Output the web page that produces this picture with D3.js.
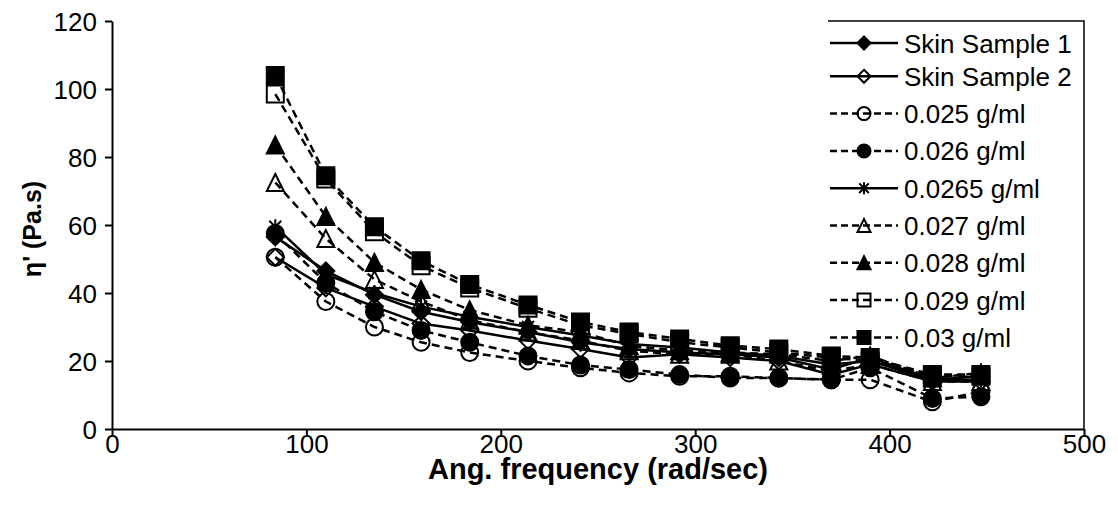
<!DOCTYPE html>
<html>
<head>
<meta charset="utf-8">
<script src="https://cdn.jsdelivr.net/npm/d3@7"></script>
<style>
  body { margin: 0; background: #fff; }
  text { font-family: Arial, "Liberation Sans", sans-serif; }
</style>
</head>
<body>
<div id="chart"></div>
<script>
// Dữ liệu
const freq = [84, 110, 135, 159, 184, 214, 241, 266, 292, 318, 343, 370, 390, 422, 447];

const skin1 = [56.5, 46.5, 39.5, 34.5, 31.5, 28.5, 25.5, 23.5, 22.5, 22, 21, 17.5, 21, 14.5, 15.5];
const skin2 = [50.5, 41.5, 36, 31, 29, 26, 23.5, 21, 22, 21, 20, 16, 19, 14, 14];
const c025 = [50.5, 37.5, 30, 25.5, 22.5, 20, 18, 16.5, 15.5, 15.5, 15, 14.5, 14.5, 8, 11];
const c026 = [57.5, 43, 34.5, 29, 25.5, 21.5, 18.8, 17.5, 16, 15, 15, 14.5, 18, 9, 9.5];
const c0265 = [59.5, 45.5, 40, 36, 33, 30, 27.5, 25, 24, 22.5, 21.5, 19, 20, 14.5, 14.5];
const c027 = [72.5, 56, 44, 37.5, 32, 28.5, 26, 23, 22, 22, 20, 17, 19, 14, 14];
const c028 = [83.5, 62.5, 49, 41, 35, 30.5, 28.5, 24.5, 23, 22.5, 22, 20, 21.5, 15, 16.5];
const c029 = [98.5, 73.5, 58, 48, 41.5, 35.5, 30.5, 28, 25.5, 24, 22.5, 21, 20, 15.5, 15.5];
const c03 = [104, 74.5, 59.5, 49.5, 42.5, 36.5, 31.5, 28.5, 26.5, 24.5, 23.5, 21.5, 21, 16, 16];

const seriesNames = ["Skin Sample 1", "Skin Sample 2", "0.025 g/ml", "0.026 g/ml", "0.0265 g/ml",
                     "0.027 g/ml", "0.028 g/ml", "0.029 g/ml", "0.03 g/ml"];
const seriesValues = [skin1, skin2, c025, c026, c0265, c027, c028, c029, c03];
const seriesMarkers = ["diamond", "diamondOpen", "circleOpen", "circle", "star",
                       "triangleOpen", "triangle", "squareOpen", "square"];
const seriesDashed = [false, false, true, true, false, true, true, true, true];

const xTicks = [0, 100, 200, 300, 400, 500];
const yTicks = [0, 20, 40, 60, 80, 100, 120];

const width = 1118, height = 508;
const margin = { top: 21, right: 34, bottom: 79, left: 112 };

const svg = d3.select("#chart").append("svg")
    .attr("width", width)
    .attr("height", height);

const x = d3.scaleLinear().domain([0, 500]).range([margin.left, width - margin.right]);
const y = d3.scaleLinear().domain([0, 120]).range([height - margin.bottom, margin.top]);

// Trục
const xAxis = svg.append("g")
    .attr("transform", `translate(0,${y(0)})`)
    .call(d3.axisBottom(x).tickValues(xTicks).tickSize(7).tickPadding(-1).tickSizeOuter(0));
xAxis.selectAll("text").style("font-size", "26px").attr("fill", "#000");

const yAxis = svg.append("g")
    .attr("transform", `translate(${x(0)},0)`)
    .call(d3.axisLeft(y).tickValues(yTicks).tickSize(7).tickPadding(8).tickSizeOuter(0));
yAxis.selectAll("text").style("font-size", "26px").attr("fill", "#000").attr("dy", "0.36em");

svg.selectAll(".domain").attr("stroke", "#000").attr("stroke-width", 2);
svg.selectAll(".tick line").attr("stroke", "#000").attr("stroke-width", 2);

// Tiêu đề trục
svg.append("text")
    .attr("x", (x(0) + x(500)) / 2)
    .attr("y", 479)
    .attr("text-anchor", "middle")
    .style("font-size", "29px")
    .style("font-weight", "bold")
    .text("Ang. frequency (rad/sec)");

svg.append("text")
    .attr("transform", `translate(41,229) rotate(-90)`)
    .attr("text-anchor", "middle")
    .style("font-size", "25px")
    .style("font-weight", "bold")
    .text("η' (Pa.s)");

// Khung chú giải (chỉ cạnh trên và phải hiện ra)
svg.append("path")
    .attr("d", `M828,${y(120)}H${x(500)}V${y(0)}`)
    .attr("fill", "none")
    .attr("stroke", "#000")
    .attr("stroke-width", 1.5);

function drawMarker(g, type, cx, cy, s) {
    const h = s / 2;
    let d, filled = !type.endsWith("Open");
    const base = type.replace("Open", "");
    if (base === "square") {
        d = `M${cx - h},${cy - h}h${s}v${s}h${-s}Z`;
    } else if (base === "diamond") {
        d = `M${cx},${cy - h}L${cx + h},${cy}L${cx},${cy + h}L${cx - h},${cy}Z`;
    } else if (base === "triangle") {
        d = `M${cx},${cy - h}L${cx + h},${cy + h}L${cx - h},${cy + h}Z`;
    } else if (base === "circle") {
        d = `M${cx + h},${cy}A${h},${h} 0 1,1 ${cx - h},${cy}A${h},${h} 0 1,1 ${cx + h},${cy}Z`;
    } else if (base === "star") {
        const k = h * 0.8;
        d = `M${cx - k},${cy - k}L${cx + k},${cy + k}M${cx + k},${cy - k}L${cx - k},${cy + k}M${cx},${cy - h}V${cy + h}`;
        filled = false;
    }
    g.append("path")
        .attr("d", d)
        .attr("fill", filled ? "#000" : "none")
        .attr("stroke", "#000")
        .attr("stroke-width", 2);
}

const line = d3.line().x(d => x(d[0])).y(d => y(d[1]));

seriesValues.forEach((vals, i) => {
    const pts = freq.map((f, j) => [f, vals[j]]);
    const g = svg.append("g");
    g.append("path")
        .datum(pts)
        .attr("d", line)
        .attr("fill", "none")
        .attr("stroke", "#000")
        .attr("stroke-width", 2.5)
        .attr("stroke-dasharray", seriesDashed[i] ? "8,5" : null);
    const size = seriesMarkers[i] === "star" ? 15 : 17;
    pts.forEach(p => drawMarker(g, seriesMarkers[i], x(p[0]), y(p[1]), size));
});

// Chú giải
const legend = svg.append("g");
seriesNames.forEach((name, i) => {
    const ly = i === 0 ? 43 : 39 + i * 37.3;
    const g = legend.append("g");
    g.append("line")
        .attr("x1", 830).attr("x2", 898)
        .attr("y1", ly).attr("y2", ly)
        .attr("stroke", "#000")
        .attr("stroke-width", 2.5)
        .attr("stroke-dasharray", seriesDashed[i] ? "7,4" : null);
    const size = seriesMarkers[i] === "star" ? 12 : 13;
    drawMarker(g, seriesMarkers[i], 864, ly, size);
    g.append("text")
        .attr("x", 904)
        .attr("y", ly + 9.5)
        .style("font-size", "26px")
        .text(name);
});
</script>
</body>
</html>
